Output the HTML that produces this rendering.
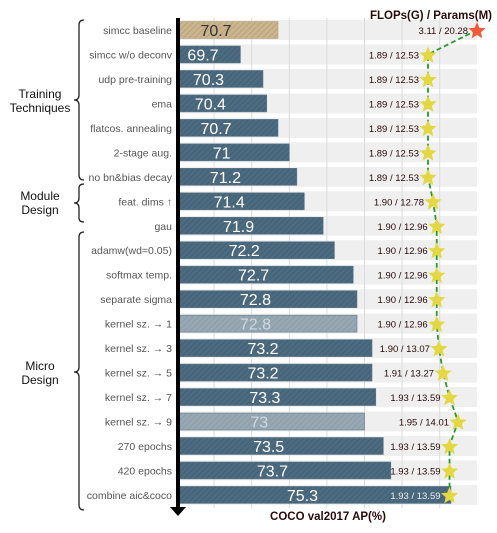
<!DOCTYPE html>
<html><head><meta charset="utf-8"><style>
body{margin:0;background:#fff;font-family:"Liberation Sans",sans-serif}
svg text{font-family:"Liberation Sans","DejaVu Sans",sans-serif}
</style></head><body>
<svg id="c" width="497" height="528" viewBox="0 0 497 528">
<defs>
<pattern id="hb" width="4" height="4" patternUnits="userSpaceOnUse" patternTransform="rotate(45)"><rect width="4" height="4" fill="#4d6b80"/><line x1="0" y1="0" x2="0" y2="4" stroke="#3f5c70" stroke-width="1.5"/></pattern>
<pattern id="ht" width="4" height="4" patternUnits="userSpaceOnUse" patternTransform="rotate(45)"><rect width="4" height="4" fill="#cbb58e"/><line x1="0" y1="0" x2="0" y2="4" stroke="#b49d77" stroke-width="1.5"/></pattern>
<pattern id="hl" width="4" height="4" patternUnits="userSpaceOnUse" patternTransform="rotate(45)"><rect width="4" height="4" fill="#97a8b3"/><line x1="0" y1="0" x2="0" y2="4" stroke="#889aa6" stroke-width="1.5"/></pattern>
</defs>
<g id="grid"></g><g id="bars"></g><g id="line"></g><g id="labels"></g>
<g fill="none" stroke="#222" stroke-width="1.3">
<path d="M84,20 Q79,20 79,25 L79,95 Q79,100 74,100 Q79,100 79,105 L79,175 Q79,180 84,180"/>
<path d="M84,184 Q79,184 79,188 L79,198 Q79,203 74,203 Q79,203 79,208 L79,218 Q79,222 84,222"/>
<path d="M84,232 Q79,232 79,237 L79,367 Q79,372 74,372 Q79,372 79,377 L79,505 Q79,510 84,510"/>
</g>
<text x="40" y="98" text-anchor="middle" font-size="12" fill="#111">Training</text>
<text x="40" y="112" text-anchor="middle" font-size="12" fill="#111">Techniques</text>
<text x="40" y="200" text-anchor="middle" font-size="12" fill="#111">Module</text>
<text x="40" y="214" text-anchor="middle" font-size="12" fill="#111">Design</text>
<text x="40" y="370" text-anchor="middle" font-size="12" fill="#111">Micro</text>
<text x="40" y="384" text-anchor="middle" font-size="12" fill="#111">Design</text>
<text x="431" y="19" text-anchor="middle" font-size="11.5" font-weight="bold" fill="#2a0a0a">FLOPs(G) / Params(M)</text>
<text x="328" y="520" text-anchor="middle" font-size="11.5" font-weight="bold" fill="#2a0a0a">COCO val2017 AP(%)</text>
<rect x="176" y="18" width="4" height="490" fill="#000"/>
<path d="M170,507 L186,507 L178,516 Z" fill="#000"/>
</svg>
<script>
const categories=["simcc baseline","simcc w/o deconv","udp pre-training","ema","flatcos. annealing","2-stage aug.","no bn&bias decay","feat. dims ↑","gau","adamw(wd=0.05)","softmax temp.","separate sigma","kernel sz. → 1","kernel sz. → 3","kernel sz. → 5","kernel sz. → 7","kernel sz. → 9","270 epochs","420 epochs","combine aic&coco"];
const apValues=[70.7,69.7,70.3,70.4,70.7,71,71.2,71.4,71.9,72.2,72.7,72.8,72.8,73.2,73.2,73.3,73,73.5,73.7,75.3];
const flops=[3.11,1.89,1.89,1.89,1.89,1.89,1.89,1.90,1.90,1.90,1.90,1.90,1.90,1.90,1.91,1.93,1.95,1.93,1.93,1.93];
const params=[20.28,12.53,12.53,12.53,12.53,12.53,12.53,12.78,12.96,12.96,12.96,12.96,12.96,13.07,13.27,13.59,14.01,13.59,13.59,13.59];
const barStyle=["tan","dark","dark","dark","dark","dark","dark","dark","dark","dark","dark","dark","light","dark","dark","dark","light","dark","dark","dark"];
const NS="http://www.w3.org/2000/svg";
const X0=178,XMAX=477,AP0=68.04,APPX=37.6;
const xAP=v=>X0+(v-AP0)*APPX;
const xPar=p=>Math.min(428+(p-12.53)*20.3,477);
const yRow=i=>30+i*24.47;
function mk(t,a,p){const e=document.createElementNS(NS,t);for(const k in a)e.setAttribute(k,a[k]);p.appendChild(e);return e;}
const grid=document.getElementById('grid'),bars=document.getElementById('bars'),line=document.getElementById('line'),labels=document.getElementById('labels');
categories.forEach((c,i)=>{const y=yRow(i);
 const s=mk('rect',{x:X0,y:y-10,width:XMAX-X0,height:20,fill:'#efefef'},grid);
 
 });
for(let v=69;v<=75;v++){const g=mk('line',{x1:xAP(v),x2:xAP(v),y1:18,y2:508,stroke:'#dcdcdc','stroke-width':1},grid);
 
 }
categories.forEach((c,i)=>{const y=yRow(i),end=xAP(apValues[i]);
 const st=barStyle[i];
 const b=mk('rect',{x:X0,y:y-8.5,width:end-X0,height:17,fill:st=='tan'?'url(#ht)':st=='light'?'url(#hl)':'url(#hb)',stroke:st=='tan'?'#b8a27c':'#5c7a8c','stroke-width':0.6},bars);
 
 
 const tx=Math.max((X0+end)/2-12,203);
 const t=mk('text',{x:tx,y:y+6,'text-anchor':'middle','font-size':16,fill:st=='tan'?'#333':st=='light'?'#cfd8de':'#fff'},bars);
 t.textContent=String(apValues[i]);
 
 
 const l=mk('text',{x:172,y:y+4,'text-anchor':'end','font-size':10.5,fill:'#555'},labels);
 l.textContent=c;
 
 });
let pts=categories.map((c,i)=>xPar(params[i])+','+yRow(i)).join(' ');
const pl=mk('polyline',{points:pts,fill:'none',stroke:'#2a9a2a','stroke-width':1.8,'stroke-dasharray':'5,3'},line);


function star(cx,cy,r){let p=[];for(let k=0;k<10;k++){const a=-Math.PI/2+k*Math.PI/5,rr=k%2?r*0.45:r;p.push((cx+rr*Math.cos(a)).toFixed(1)+','+(cy+rr*Math.sin(a)).toFixed(1));}return p.join(' ');}
categories.forEach((c,i)=>{const x=xPar(params[i]),y=yRow(i);
 const s=mk('polygon',{points:star(x,y+1,9),fill:i==0?'#f05a3a':'#e3d843'},line);
 
 
 const t=mk('text',{x:x-9,y:y+4,'text-anchor':'end','font-size':9.5,fill:i==19?'#e8eef2':'#2a0a0a'},line);
 t.textContent=flops[i].toFixed(2)+' / '+params[i].toFixed(2);
 
 });
</script>
</body></html>
